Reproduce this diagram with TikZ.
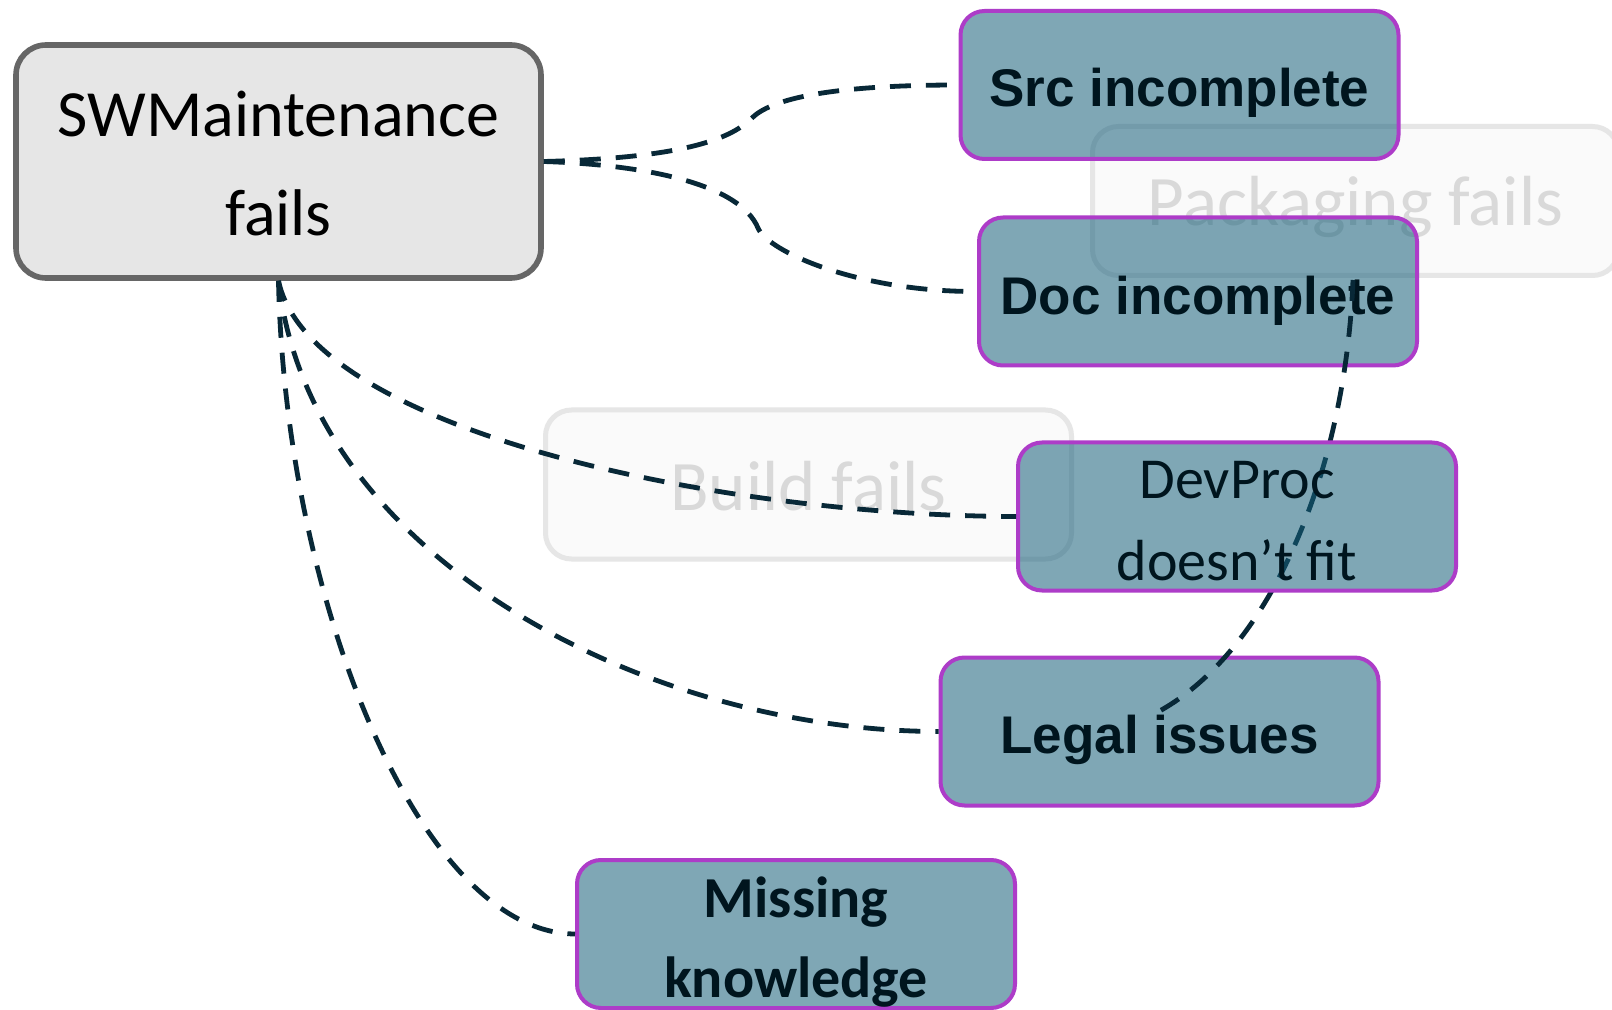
\documentclass[tikz,border=0pt]{standalone}
\usepackage{fontspec}
\setmainfont{Carlito}
\newfontfamily\arialb{Liberation Sans}
\definecolor{tealfill}{RGB}{22,95,122}
\definecolor{purp}{RGB}{173,60,200}
\definecolor{edgec}{RGB}{8,40,55}
\definecolor{txt}{RGB}{0,21,30}
\definecolor{swmfill}{RGB}{230,230,230}
\definecolor{swmdraw}{RGB}{102,102,102}
\definecolor{faintfill}{RGB}{250,250,250}
\definecolor{faintdraw}{RGB}{230,230,230}
\definecolor{fainttext}{RGB}{217,217,217}
% one line: baseline #1 below the node centre
\newcommand\oneline[2]{\raisebox{-#1}[0pt][0pt]{#2}}
% two lines: first baseline #1 above the node centre
\newcommand\twolines[3]{\raisebox{#1}[0pt][0pt]{\begin{tabular}[t]{@{}c@{}}#2\\#3\end{tabular}}}
\begin{document}
\begin{tikzpicture}[x=0.5pt,y=-0.5pt,
  root/.style={draw=swmdraw, fill=swmfill, line width=2.8pt, rounded corners=15pt,
    minimum width=262.5pt, minimum height=116.5pt, inner sep=0pt,
    font=\fontsize{33}{49.5}\selectfont, text=black},
  faint/.style={draw=faintdraw, fill=faintfill, line width=2.5pt, rounded corners=13pt,
    minimum width=263pt, minimum height=74.5pt, inner sep=0pt,
    font=\fontsize{35.5}{42}\selectfont, text=fainttext},
  cause/.style={draw=purp, fill=tealfill, fill opacity=0.55, text opacity=1, draw opacity=1,
    line width=2pt, rounded corners=12pt, minimum width=219pt, minimum height=74pt,
    inner sep=0pt, text=txt},
  causeA/.style={cause, font=\arialb\bfseries\fontsize{26.5}{32}\selectfont},
  causeB/.style={cause, font=\fontsize{29}{41}\selectfont},
  causeC/.style={cause, font=\bfseries\fontsize{29}{40}\selectfont},
  edge/.style={draw=edgec, line width=2.4pt, dash pattern=on 10.5pt off 7.5pt}]
\useasboundingbox (0,0) rectangle (1612,1010);
\fill[white] (0,0) rectangle (1612,1010);

\node[faint] (pack) at (1355.5,201) {\oneline{12.5pt}{Packaging fails}};
\node[faint] (build) at (808.5,484.5) {\oneline{13pt}{Build fails}};

\node[root] (swm) at (278.5,161.5) {\twolines{12.3pt}{SWMaintenance}{fails}};

\node[causeA] (src) at (1179.5,85) {\oneline{11pt}{Src incomplete}};
\node[causeA] (doc) at (1198,291.5) {\oneline{11.7pt}{Doc incomplete}};
\node[causeA] (legal) at (1159.5,731.5) {\oneline{11.2pt}{Legal issues}};
\node[causeC] (miss) at (796,934) {\twolines{8.5pt}{Missing}{knowledge}};

\coordinate (d6s) at (1353,280);
\coordinate (d6e) at (1150,716);

\draw[edge] (swm.east) .. controls (680,158) and (730,140) .. (752,118)
  .. controls (775,95) and (850,85) .. (src.west);
\draw[edge] (swm.east) .. controls (650,165) and (740,185) .. (758,228)
  .. controls (768,252) and (860,292) .. (doc.west);
\draw[edge] (swm.south) .. controls (310,560) and (650,731) .. (legal.west);
\draw[edge] (swm.south) .. controls (285,600) and (420,933) .. (miss.west);
\draw[edge] (d6s) .. controls (1345,480) and (1265,660) .. (d6e);

\node[causeB] (dev) at (1237,516.5) {\twolines{8.8pt}{DevProc}{doesn’t fit}};
\draw[edge] (swm.south) .. controls (310,430) and (720,516) .. (dev.west);
\end{tikzpicture}
\end{document}
